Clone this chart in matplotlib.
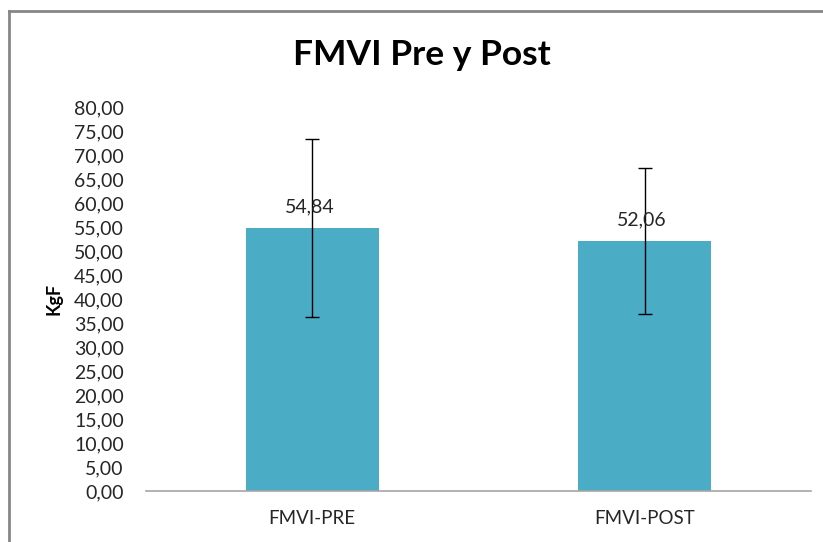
import matplotlib
matplotlib.use("Agg")
import matplotlib.pyplot as plt
from matplotlib.lines import Line2D

categories = ["FMVI-PRE", "FMVI-POST"]
values = [54.84, 52.06]
errors = [18.5, 15.2]
yticks = [0, 5, 10, 15, 20, 25, 30, 35, 40, 45, 50, 55, 60, 65, 70, 75, 80]
title = "FMVI Pre y Post"
ylabel = "KgF"

plt.rcParams['font.family'] = ['Lato', 'DejaVu Sans']

W, H = 823, 542
fig = plt.figure(figsize=(W/100, H/100), dpi=100)
ax = fig.add_axes([146/W, 1-491/H, (811-146)/W, (491-107)/H])

x = list(range(len(categories)))
ax.bar(x, values, width=0.4, color="#4BACC6", zorder=2)
ax.errorbar(x, values, yerr=errors, fmt="none", ecolor="black", elinewidth=1,
            capsize=5, capthick=1, zorder=3)
for xi, v in zip(x, values):
    ax.annotate(f"{v:.2f}".replace(".", ","), (xi, v), xytext=(-2, 9),
                textcoords="offset points", ha="center", va="bottom",
                fontsize=14, color="#262626")

ax.set_xlim(-0.5, 1.5)
ax.set_ylim(0, 80)
ax.set_yticks(yticks)
ax.set_yticklabels([f"{t:.2f}".replace(".", ",") for t in yticks],
                   fontsize=14, color="#262626")
ax.set_xticks(x)
ax.set_xticklabels(categories, fontsize=13.5, color="#262626")
ax.tick_params(axis="both", length=0)
ax.tick_params(axis="y", pad=16)
ax.tick_params(axis="x", pad=14)
for s in ["top", "right", "left"]:
    ax.spines[s].set_visible(False)
ax.spines["bottom"].set_color("#A6A6A6")
ax.spines["bottom"].set_linewidth(1.2)

ax.set_ylabel(ylabel, fontsize=13, fontweight="bold", labelpad=8)
fig.text(422/W, 1-55/H, title, ha="center", va="center", fontsize=25.5,
         fontweight="bold", color="black")

# outer chart border
fig.add_artist(Line2D([9/W, 9/W], [0, 1-11/H], transform=fig.transFigure,
                      color="#868686", linewidth=2))
fig.add_artist(Line2D([9/W, 1], [1-11/H, 1-11/H], transform=fig.transFigure,
                      color="#868686", linewidth=2))

fig.savefig("out.png", dpi=100, facecolor="white")
